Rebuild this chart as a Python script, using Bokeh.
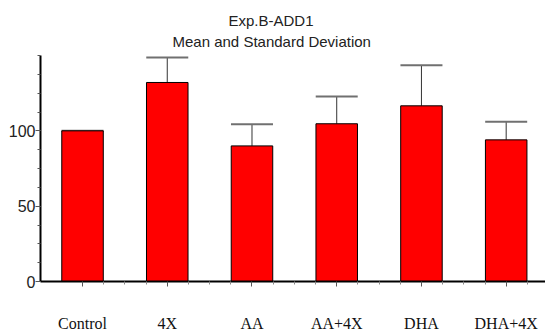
from bokeh.plotting import figure
from bokeh.models import Range1d, FixedTicker, Whisker, TeeHead, ColumnDataSource, Title
from bokeh.embed import file_html
from bokeh.resources import INLINE

categories = ["Control", "4X", "AA", "AA+4X", "DHA", "DHA+4X"]
means = [100, 132.1, 90.0, 104.7, 116.6, 94.0]
sds = [0, 16.6, 14.4, 18.1, 27.0, 12.0]
y_ticks = [0, 50, 100]
title_lines = ["Exp.B-ADD1", "Mean and Standard Deviation"]

xs = list(range(len(categories)))
upper = [m + s for m, s in zip(means, sds)]
src = ColumnDataSource(dict(x=xs, mean=means, upper=upper))

SANS = "'Liberation Sans', Arial, sans-serif"

p = figure(width=545, height=334, output_backend="svg", toolbar_location=None,
           x_range=Range1d(-0.496, 5.464), y_range=Range1d(0, 150),
           min_border_left=40, min_border_right=0, min_border_top=55, min_border_bottom=53)
p.outline_line_color = None
p.xgrid.visible = False
p.ygrid.visible = False

# titles: inner line added first (closest to the frame)
p.add_layout(Title(text=title_lines[1], align="left", offset=132, text_font=SANS,
                   text_font_size="15px", text_font_style="normal",
                   text_color="#222222", standoff=11), "above")
p.add_layout(Title(text=title_lines[0], align="left", offset=188, text_font=SANS,
                   text_font_size="15px", text_font_style="normal",
                   text_color="#222222", standoff=-6), "above")

wh = Whisker(source=src, base="x", lower="mean", upper="upper", dimension="height",
             line_color="#333333", line_width=1,
             upper_head=TeeHead(size=42, line_color="#707070", line_width=2),
             lower_head=None)
p.add_layout(wh)

p.vbar(x="x", top="mean", bottom=0, width=0.49, source=src,
       fill_color="#FF0000", line_color="#000000", line_width=1)

# y axis
ya = p.yaxis[0]
ya.ticker = FixedTicker(ticks=y_ticks,
                        minor_ticks=[y_ticks[0] + k * 12.5 for k in range(13)])
ya.axis_line_width = 2
ya.axis_line_color = "#000000"
ya.major_tick_out = 5
ya.major_tick_in = 0
ya.minor_tick_out = 3
ya.minor_tick_in = 0
ya.major_tick_line_color = "#555555"
ya.minor_tick_line_color = "#555555"
ya.major_label_standoff = 0
ya.major_label_text_font = SANS
ya.major_label_text_font_size = "16px"
ya.major_label_text_color = "#222222"

# x axis
xa = p.xaxis[0]
xa.ticker = FixedTicker(ticks=xs,
                        minor_ticks=[i + k / 4 for i in xs for k in (1, 2, 3)])
xa.major_label_overrides = {i: c for i, c in zip(xs, categories)}
xa.axis_line_width = 2
xa.axis_line_color = "#000000"
xa.major_tick_out = 5
xa.major_tick_in = 0
xa.minor_tick_out = 3
xa.minor_tick_in = 0
xa.major_tick_line_color = "#555555"
xa.minor_tick_line_color = "#888888"
xa.major_label_standoff = 28
xa.major_label_text_font = "'Liberation Serif', 'Times New Roman', serif"
xa.major_label_text_font_size = "16px"
xa.major_label_text_color = "#111111"

open("out.html", "w").write(file_html(p, INLINE))
